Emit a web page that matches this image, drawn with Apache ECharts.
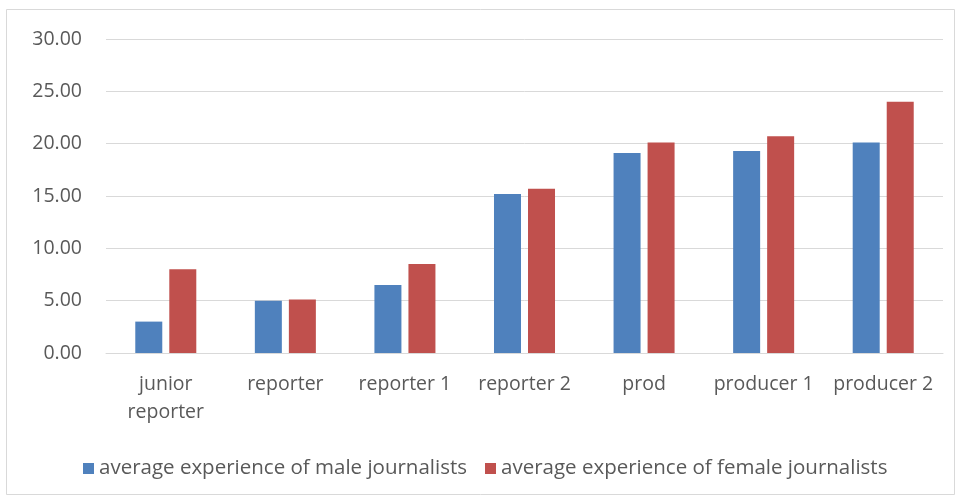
<!DOCTYPE html>
<html><head><meta charset="utf-8">
<script src="https://cdn.jsdelivr.net/npm/echarts@6/dist/echarts.min.js"></script>
<style>html,body{margin:0;padding:0;background:#fff}#c{width:958px;height:499px}</style>
</head><body><div id="c"></div>
<script>
const categories = ['junior\nreporter', 'reporter', 'reporter 1', 'reporter 2', 'prod', 'producer 1', 'producer 2'];
const maleValues = [3.0, 5.0, 6.5, 15.2, 19.1, 19.3, 20.1];
const femaleValues = [8.0, 5.1, 8.5, 15.7, 20.1, 20.7, 24.0];
const seriesNames = ['average experience of male journalists', 'average experience of female journalists'];
const yTicks = {min: 0, max: 30, interval: 5};

const chart = echarts.init(document.getElementById('c'), null, {renderer: 'canvas'});
const font = '"Open Sans", "Noto Sans", sans-serif';
chart.setOption({
  animation: false,
  backgroundColor: '#fff',
  graphic: [{type: 'rect', shape: {x: 6.5, y: 9.5, width: 948, height: 485}, style: {fill: 'none', stroke: '#d9d9d9', lineWidth: 1}}],
  grid: {left: 106, right: 15, top: 39, bottom: 146},
  legend: {
    data: seriesNames, top: 453, left: 78, itemWidth: 11, itemHeight: 11, itemGap: 18,
    icon: 'rect', textStyle: {fontFamily: font, fontSize: 20.5, color: '#595959'}
  },
  xAxis: {
    type: 'category', data: categories,
    axisLine: {lineStyle: {color: '#d9d9d9'}}, axisTick: {show: false},
    axisLabel: {fontFamily: font, fontSize: 19.5, color: '#595959', margin: 17, lineHeight: 28, interval: 0}
  },
  yAxis: {
    type: 'value', min: yTicks.min, max: yTicks.max, interval: yTicks.interval,
    axisLine: {show: false}, axisTick: {show: false},
    splitLine: {lineStyle: {color: '#d9d9d9'}},
    axisLabel: {fontFamily: font, fontSize: 19.5, color: '#595959', margin: 24, formatter: v => v.toFixed(2)}
  },
  series: [
    {name: seriesNames[0], type: 'bar', data: maleValues, barWidth: 27, barGap: '26%', itemStyle: {color: '#4f81bd'}},
    {name: seriesNames[1], type: 'bar', data: femaleValues, barWidth: 27, itemStyle: {color: '#c0504d'}}
  ]
});
</script></body></html>
